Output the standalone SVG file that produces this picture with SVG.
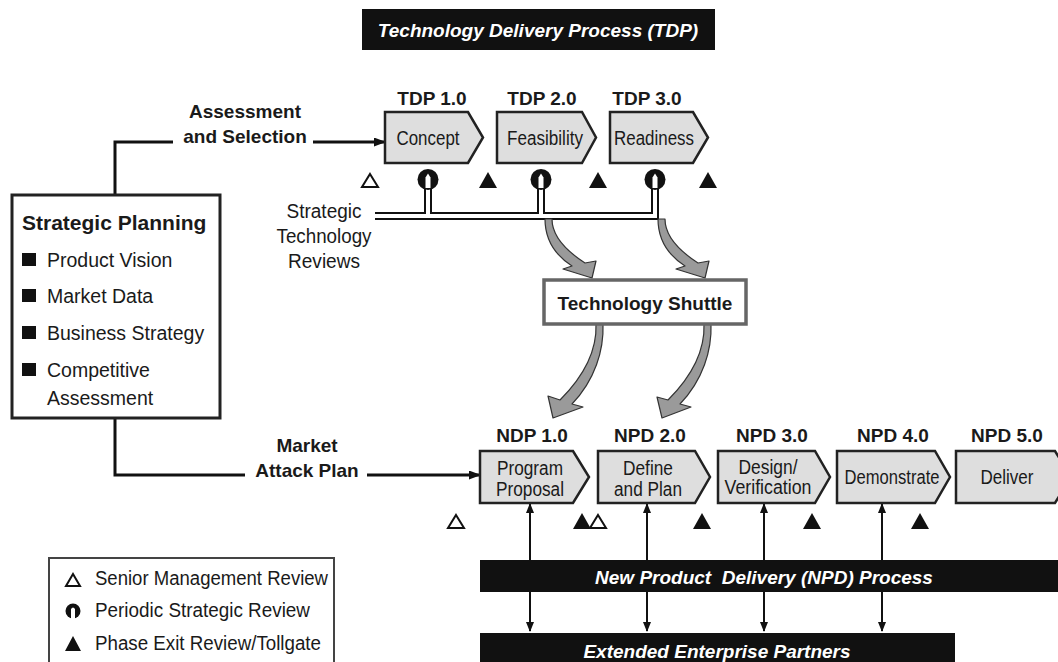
<svg xmlns="http://www.w3.org/2000/svg" width="1058" height="662" viewBox="0 0 1058 662">
<defs>
<style>
.t{font-family:"Liberation Sans",Arial,sans-serif;fill:#1a1a1a}
.b{font-weight:bold}
.c{text-anchor:middle}
.w{fill:#fff;font-style:italic;font-weight:bold}
.bx{font-size:19.5px}
.chev{fill:#dedede;stroke:#222;stroke-width:2.5;stroke-linejoin:miter}
.ln{fill:none;stroke:#111;stroke-width:3}
.thin{fill:none;stroke:#111;stroke-width:2}
.ga{fill:#9a9a9a;stroke:#333;stroke-width:1.2;stroke-linejoin:round}
.tri{fill:#111}
.otri{fill:#fff;stroke:#111;stroke-width:2}
</style>
<marker id="ah" viewBox="0 0 12 9" refX="11" refY="4.5" markerWidth="12" markerHeight="9" markerUnits="userSpaceOnUse" orient="auto-start-reverse"><path d="M0,0 L12,4.5 L0,9 z" fill="#111"/></marker>
<marker id="sh" viewBox="0 0 10 8" refX="9" refY="4" markerWidth="10" markerHeight="8" markerUnits="userSpaceOnUse" orient="auto-start-reverse"><path d="M0,0 L10,4 L0,8 z" fill="#111"/></marker>
</defs>
<rect width="1058" height="662" fill="#fff"/>

<g id="title">
<rect x="362" y="9" width="353" height="41" fill="#111"/>
<text class="t w c" x="538" y="37" font-size="19">Technology Delivery Process (TDP)</text>
</g>

<g id="connectors">
<path class="ln" d="M115 195 V142 H173"/>
<path class="ln" d="M313 142 H385" marker-end="url(#ah)"/>
<path class="ln" d="M115 418 V475 H245"/>
<path class="ln" d="M367 475 H480" marker-end="url(#ah)"/>
<path d="M375 216 H655 V184 M428 216 V184 M541 216 V184" fill="none" stroke="#111" stroke-width="8"/>
<path d="M375 216 H655 V184 M428 216 V184 M541 216 V184" fill="none" stroke="#fff" stroke-width="4"/>
<path class="ga" d="M545 219 C545 240 555 255 572 266 L563 269 L592 278 L596 261 L585 263 C568 252 552 238 552 219 Z"/>
<path class="ga" d="M658 219 C658 240 668 255 685 266 L676 269 L705 278 L709 261 L698 263 C681 252 665 238 665 219 Z"/>
<path class="ga" d="M596 324 C597 350 585 375 560 400 L548 396 L553 418 L583 407 L572 404 C595 380 604 350 603 324 Z"/>
<path class="ga" d="M704 324 C705 350 693 375 668 400 L657 397 L662 418 L691 407 L680 404 C703 380 712 350 711 324 Z"/>
<path class="thin" d="M530 504 V631" marker-start="url(#sh)" marker-end="url(#sh)"/>
<path class="thin" d="M647 504 V631" marker-start="url(#sh)" marker-end="url(#sh)"/>
<path class="thin" d="M764 504 V631" marker-start="url(#sh)" marker-end="url(#sh)"/>
<path class="thin" d="M882 504 V631" marker-start="url(#sh)" marker-end="url(#sh)"/>
</g>

<g id="strategic-planning">
<rect x="12" y="195" width="208" height="223" fill="#fff" stroke="#222" stroke-width="3"/>
<text class="t b" x="22" y="230" font-size="21">Strategic Planning</text>
<rect x="22" y="253" width="14" height="13" fill="#111"/>
<text class="t" x="47" y="267" font-size="19.5">Product Vision</text>
<rect x="22" y="289" width="14" height="13" fill="#111"/>
<text class="t" x="47" y="303" font-size="19.5">Market Data</text>
<rect x="22" y="326" width="14" height="13" fill="#111"/>
<text class="t" x="47" y="340" font-size="19.5">Business Strategy</text>
<rect x="22" y="363" width="14" height="13" fill="#111"/>
<text class="t" x="47" y="377" font-size="19.5">Competitive</text>
<text class="t" x="47" y="405" font-size="19.5">Assessment</text>
</g>

<g id="label-assessment">
<text class="t b c" x="245" y="118" font-size="19">Assessment</text>
<text class="t b c" x="245" y="143" font-size="19">and Selection</text>
</g>
<g id="label-market">
<text class="t b c" x="307" y="452" font-size="19">Market</text>
<text class="t b c" x="307" y="477" font-size="19">Attack Plan</text>
</g>
<g id="label-str">
<text class="t c" x="324" y="218" font-size="19.5" textLength="75" lengthAdjust="spacingAndGlyphs">Strategic</text>
<text class="t c" x="324" y="243" font-size="19.5" textLength="95" lengthAdjust="spacingAndGlyphs">Technology</text>
<text class="t c" x="324" y="268" font-size="19.5" textLength="72" lengthAdjust="spacingAndGlyphs">Reviews</text>
</g>

<g id="tdp1">
<text class="t b c" x="432" y="105" font-size="19">TDP 1.0</text>
<path class="chev" d="M385 112 H468 L483 137.5 L468 163 H385 Z"/>
<text class="t c bx" x="428" y="145" textLength="63" lengthAdjust="spacingAndGlyphs">Concept</text>
</g>
<g id="tdp2">
<text class="t b c" x="542" y="105" font-size="19">TDP 2.0</text>
<path class="chev" d="M497 112 H582 L596 137.5 L582 163 H497 Z"/>
<text class="t c bx" x="545" y="145" textLength="76" lengthAdjust="spacingAndGlyphs">Feasibility</text>
</g>
<g id="tdp3">
<text class="t b c" x="647" y="105" font-size="19">TDP 3.0</text>
<path class="chev" d="M610 112 H693 L708 137.5 L693 163 H610 Z"/>
<text class="t c bx" x="654" y="145" textLength="80" lengthAdjust="spacingAndGlyphs">Readiness</text>
</g>

<g id="tdp-reviews">
<path class="otri" d="M370 174 L378 187 H362 Z"/>
<path class="tri" d="M488 172 L497 188 H479 Z"/>
<path class="tri" d="M598 172 L607 188 H589 Z"/>
<path class="tri" d="M708 172 L717 188 H699 Z"/>
<circle cx="428" cy="179.5" r="10.5" fill="#111"/>
<path d="M425.5 188 V177.5 L428 173.5 L430.5 177.5 V188 Z" fill="#fff"/>
<circle cx="541" cy="179.5" r="10.5" fill="#111"/>
<path d="M538.5 188 V177.5 L541 173.5 L543.5 177.5 V188 Z" fill="#fff"/>
<circle cx="655" cy="179.5" r="10.5" fill="#111"/>
<path d="M652.5 188 V177.5 L655 173.5 L657.5 177.5 V188 Z" fill="#fff"/>
</g>

<g id="shuttle">
<rect x="544" y="280" width="202" height="44" fill="#fff" stroke="#666" stroke-width="3.5"/>
<text class="t b c" x="645" y="310" font-size="19">Technology Shuttle</text>
</g>

<g id="npd1">
<text class="t b c" x="532" y="442" font-size="19">NDP 1.0</text>
<path class="chev" d="M480 451 H573 L589 477 L573 503 H480 Z"/>
<text class="t c bx" x="530" y="475" textLength="66" lengthAdjust="spacingAndGlyphs">Program</text>
<text class="t c bx" x="530" y="496" textLength="68" lengthAdjust="spacingAndGlyphs">Proposal</text>
</g>
<g id="npd2">
<text class="t b c" x="650" y="442" font-size="19">NPD 2.0</text>
<path class="chev" d="M598 451 H695 L710 477 L695 503 H598 Z"/>
<text class="t c bx" x="648" y="475" textLength="50" lengthAdjust="spacingAndGlyphs">Define</text>
<text class="t c bx" x="648" y="496" textLength="68" lengthAdjust="spacingAndGlyphs">and Plan</text>
</g>
<g id="npd3">
<text class="t b c" x="772" y="442" font-size="19">NPD 3.0</text>
<path class="chev" d="M718 451 H815 L830 477 L815 503 H718 Z"/>
<text class="t c bx" x="768" y="474" textLength="59" lengthAdjust="spacingAndGlyphs">Design/</text>
<text class="t c bx" x="768" y="494" textLength="87" lengthAdjust="spacingAndGlyphs">Verification</text>
</g>
<g id="npd4">
<text class="t b c" x="893" y="442" font-size="19">NPD 4.0</text>
<path class="chev" d="M837 451 H935 L950 477 L935 503 H837 Z"/>
<text class="t c bx" x="892" y="484" textLength="95" lengthAdjust="spacingAndGlyphs">Demonstrate</text>
</g>
<g id="npd5">
<text class="t b c" x="1007" y="442" font-size="19">NPD 5.0</text>
<path class="chev" d="M956 451 H1055 L1071 477 L1055 503 H956 Z"/>
<text class="t c bx" x="1007" y="484" textLength="53" lengthAdjust="spacingAndGlyphs">Deliver</text>
</g>

<g id="npd-reviews">
<path class="otri" d="M456 515 L464 528 H448 Z"/>
<path class="tri" d="M582 513 L591 529 H573 Z"/>
<path class="otri" d="M598 515 L606 528 H590 Z"/>
<path class="tri" d="M702 513 L711 529 H693 Z"/>
<path class="tri" d="M812 513 L821 529 H803 Z"/>
<path class="tri" d="M920 513 L929 529 H911 Z"/>
</g>

<g id="npd-bar">
<rect x="480" y="560" width="580" height="32" fill="#111"/>
<text class="t w c" x="764" y="584" font-size="19">New Product&#160; Delivery (NPD) Process</text>
</g>
<g id="partners-bar">
<rect x="480" y="633" width="475" height="40" fill="#111"/>
<text class="t w c" x="717" y="658" font-size="19">Extended Enterprise Partners</text>
</g>

<g id="legend">
<rect x="49" y="558" width="285" height="120" fill="#fff" stroke="#444" stroke-width="2"/>
<path class="otri" d="M73 574 L80 586 H66 Z"/>
<text class="t" x="95" y="585" font-size="19.5" textLength="233" lengthAdjust="spacingAndGlyphs">Senior Management Review</text>
<circle cx="73" cy="611" r="7.5" fill="#111"/>
<path d="M71 620 V609 Q73 606 75 609 V620 Z" fill="#fff"/>
<text class="t" x="95" y="617" font-size="19.5" textLength="215" lengthAdjust="spacingAndGlyphs">Periodic Strategic Review</text>
<path class="tri" d="M73 636 L81 651 H65 Z"/>
<text class="t" x="95" y="650" font-size="19.5" textLength="226" lengthAdjust="spacingAndGlyphs">Phase Exit Review/Tollgate</text>
</g>
</svg>
